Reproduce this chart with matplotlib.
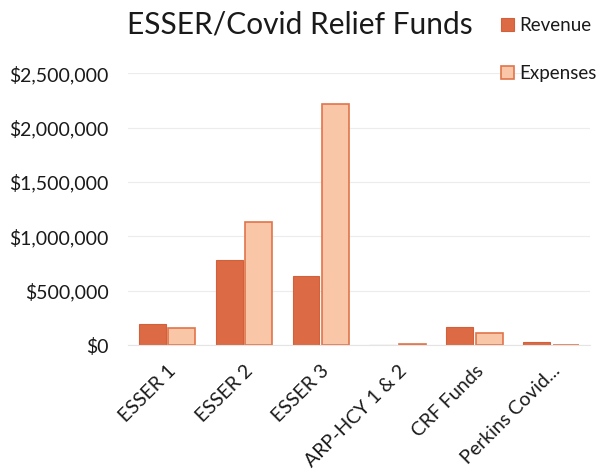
import matplotlib.pyplot as plt
import numpy as np
from matplotlib.ticker import FuncFormatter

# données
categories = ['ESSER 1', 'ESSER 2', 'ESSER 3', 'ARP-HCY 1 & 2', 'CRF Funds', 'Perkins Covid...']
revenue = [193000, 780000, 634000, 2000, 165000, 28000]
expenses = [156000, 1135000, 2220000, 15000, 110000, 5000]

plt.rcParams['font.family'] = ['Lato', 'DejaVu Sans']

fig = plt.figure(figsize=(6.05, 4.69), dpi=100)
ax = fig.add_axes([0.212, 0.264, 0.763, 0.58])

x = np.arange(len(categories))
width = 0.35
ax.bar(x - 0.19, revenue, width, color='#DC6A44', edgecolor='#D2603A', linewidth=0.8, label='Revenue')
ax.bar(x + 0.19, expenses, width, color='#FAC6A8', edgecolor='#E0744A', linewidth=1.2, label='Expenses')

ax.set_ylim(0, 2500000)
ax.set_xlim(-0.5, len(categories) - 0.5)
ax.set_yticks(np.arange(0, 2500001, 500000))
ax.yaxis.set_major_formatter(FuncFormatter(lambda v, p: f'${v:,.0f}'))
ax.grid(axis='y', color='#ECECEC', linewidth=0.8)
ax.set_axisbelow(True)
for s in ['top', 'right', 'left']:
    ax.spines[s].set_visible(False)
ax.spines['bottom'].set_color('#E4E4E4')
ax.tick_params(axis='y', length=0, labelsize=14, colors='#1a1a1a', pad=14)
ax.tick_params(axis='x', length=0, labelsize=14, colors='#1a1a1a', pad=12)
ax.set_xticks(x)
ax.set_xticklabels(categories, rotation=45, ha='right', rotation_mode='anchor')

fig.text(0.495, 0.948, 'ESSER/Covid Relief Funds', ha='center', va='center', fontsize=21.5, color='#1a1a1a')
leg = fig.legend(loc='upper left', bbox_to_anchor=(0.80, 1.0), frameon=False, fontsize=13.5,
                 handlelength=0.7, handleheight=0.7, handletextpad=0.3, labelspacing=1.65)
for t in leg.get_texts():
    t.set_color('#1a1a1a')

plt.savefig('out.png', dpi=100)
